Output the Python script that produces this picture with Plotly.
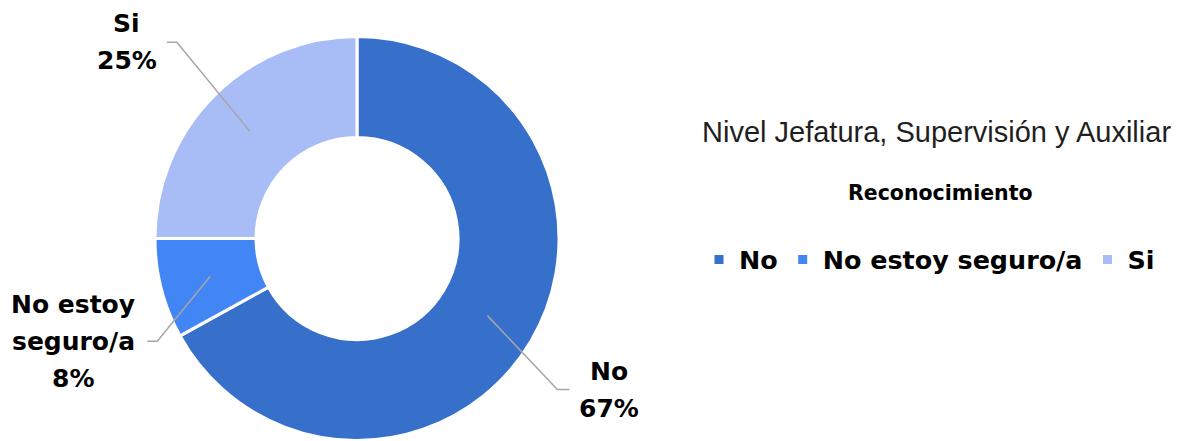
import math
import plotly.graph_objects as go

# ---- data ----
categories = ["No", "No estoy seguro/a", "Si"]
values = [67, 8, 25]
label_lines = [["No"], ["No estoy", "seguro/a"], ["Si"]]
colors = ["#3670ca", "#4285f4", "#a8bcf6"]
title_text = "Nivel Jefatura, Supervisión y Auxiliar"
subtitle_text = "Reconocimiento"

# ---- layout constants (pixels, in window coordinates) ----
PAGE_MARGIN = 8           # default body margin of the html page
W, H = 1185 - PAGE_MARGIN, 441 - PAGE_MARGIN
CX, CY, R = 357, 238.5, 202
HOLE = 0.5
# elbow offset from slice anchor, horizontal tail length, text-center offset from tail end
elbow_off = [(70, 74), (-53, 65), (-73, -89)]
tail = [12, -10, -10]
text_off = [40, -74, -40]
LINE_SP = 37


def px(x):
    return (x - PAGE_MARGIN) / W


def py(y):
    return 1 - (y - PAGE_MARGIN) / H


fig = go.Figure()
fig.add_trace(go.Pie(
    labels=categories,
    values=values,
    hole=HOLE,
    sort=False,
    direction="clockwise",
    rotation=0,
    textinfo="none",
    hoverinfo="label+percent",
    marker=dict(colors=colors, line=dict(color="white", width=3)),
    domain=dict(x=[px(CX - R), px(CX + R)], y=[max(0, py(CY + R)), py(CY - R)]),
))

total = sum(values)
cum = 0
shapes = []
annotations = []
r_mid = R * (1 + HOLE) / 2
for i, v in enumerate(values):
    mid = (cum + v / 2) / total * 2 * math.pi
    cum += v
    x0 = CX + r_mid * math.sin(mid)
    y0 = CY - r_mid * math.cos(mid)
    x1 = x0 + elbow_off[i][0]
    y1 = y0 + elbow_off[i][1]
    x2 = x1 + tail[i]
    shapes.append(dict(
        type="path", xref="paper", yref="paper",
        path=f"M {px(x0)},{py(y0)} L {px(x1)},{py(y1)} L {px(x2)},{py(y1)}",
        line=dict(color="#a6a6a6", width=1.5),
    ))
    lines = label_lines[i] + [f"{v}%"]
    n = len(lines)
    tx = x2 + text_off[i]
    for k, t in enumerate(lines):
        ty = y1 + (k - (n - 1) / 2) * LINE_SP
        annotations.append(dict(
            x=px(tx), y=py(ty), xref="paper", yref="paper",
            text=f"<b>{t}</b>", showarrow=False,
            xanchor="center", yanchor="middle",
            font=dict(family="DejaVu Sans", size=25, color="#000000"),
        ))

annotations.append(dict(
    x=px(936), y=py(132), xref="paper", yref="paper",
    text=title_text, showarrow=False, xanchor="center", yanchor="middle",
    font=dict(family="Liberation Sans, Arial", size=29, color="#1f1f1f"),
))
annotations.append(dict(
    x=px(940), y=py(193), xref="paper", yref="paper",
    text=f"<b>{subtitle_text}</b>", showarrow=False, xanchor="center", yanchor="middle",
    font=dict(family="DejaVu Sans", size=20.5, color="#000000"),
))

fig.update_layout(
    width=W, height=H,
    margin=dict(l=0, r=0, t=0, b=0),
    paper_bgcolor="white",
    plot_bgcolor="white",
    showlegend=True,
    legend=dict(
        orientation="h",
        x=px(699), xanchor="left",
        y=py(260), yanchor="middle",
        font=dict(family="DejaVu Sans", size=25.4, color="#000000", weight="bold"),
        traceorder="normal",
    ),
    shapes=shapes,
    annotations=annotations,
)

fig.write_html("out.html")
